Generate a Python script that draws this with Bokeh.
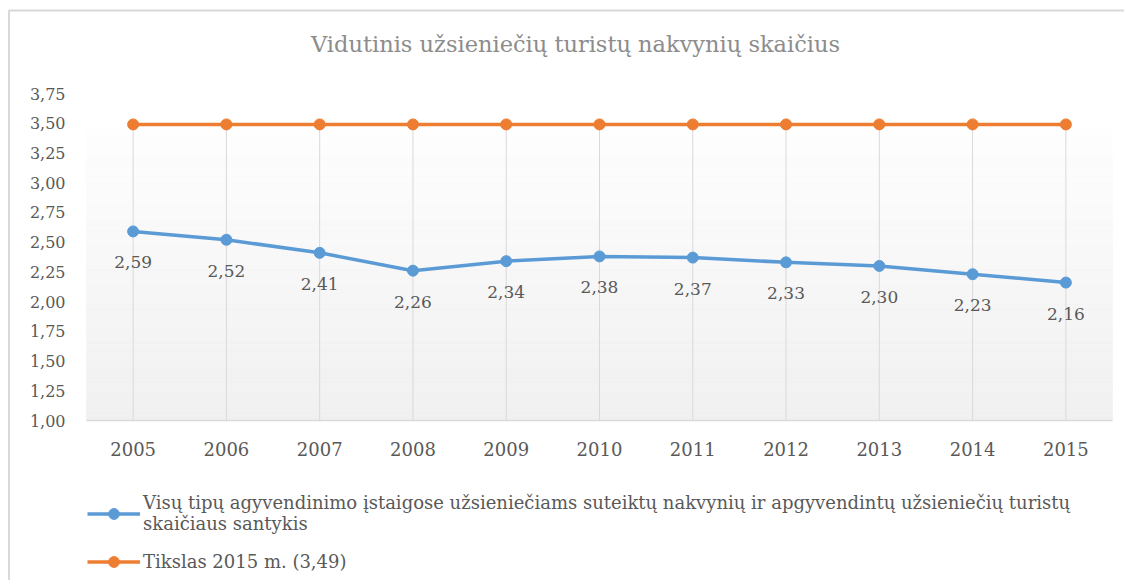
from bokeh.plotting import figure
from bokeh.models import Range1d, Legend, LegendItem
from bokeh.core.properties import value
from bokeh.embed import file_html
from bokeh.resources import INLINE

# ---- data ----
years = [2005, 2006, 2007, 2008, 2009, 2010, 2011, 2012, 2013, 2014, 2015]
santykis = [2.59, 2.52, 2.41, 2.26, 2.34, 2.38, 2.37, 2.33, 2.30, 2.23, 2.16]
tikslas = [3.49, 3.49, 3.49, 3.49, 3.49, 3.49, 3.49, 3.49, 3.49, 3.49, 3.49]
y_ticks = [1.00, 1.25, 1.50, 1.75, 2.00, 2.25, 2.50, 2.75, 3.00, 3.25, 3.50, 3.75]
chart_title = "Vidutinis užsieniečių turistų nakvynių skaičius"
series_names = [
    "Visų tipų agyvendinimo įstaigose užsieniečiams suteiktų nakvynių ir apgyvendintų užsieniečių turistų\nskaičiaus santykis",
    "Tikslas 2015 m. (3,49)",
]

# ---- style / layout (pixels) ----
BLUE = "#5B9BD5"
ORANGE = "#ED7D31"
TXT = "#595959"
GRID = "#d9d9d9"
FONT = "DejaVu Serif"
W, H = 1124, 580
OFF = 0
AREA_L, AREA_R = 86, 1112        # plot area left/right
Y_BOT_PX, Y_TOP_PX = 420, 93     # pixel of first / last y tick
AREA_TOP_PX = 128                # top of gradient plot area
TITLE_X_PX, TITLE_Y_PX = 575, 43
BOX_L_PX, BOX_T_PX = 8.5, 10     # chart box border

px_x = (AREA_R - AREA_L) / len(years)
px_y = (Y_BOT_PX - Y_TOP_PX) / (y_ticks[-1] - y_ticks[0])
x_lo = years[0] - 0.5
x_hi = years[-1] + 0.5
x_start = x_lo - (AREA_L - OFF) / px_x
x_end = x_hi + (OFF + W - AREA_R) / px_x
y_start = y_ticks[0] - (OFF + H - Y_BOT_PX) / px_y
y_end = y_ticks[-1] + (Y_TOP_PX - OFF) / px_y
area_top = y_ticks[0] + (Y_BOT_PX - AREA_TOP_PX) / px_y


def fmt(v):
    return f"{v:.2f}".replace(".", ",")


p = figure(width=W, height=H, output_backend="svg", toolbar_location=None,
           x_range=Range1d(x_start, x_end), y_range=Range1d(y_start, y_end),
           min_border=0)
p.axis.visible = False
p.grid.visible = False
p.outline_line_color = None
p.background_fill_color = "white"
p.border_fill_color = "white"

# chart box border (left + top)
bx = x_start + (BOX_L_PX - OFF) / px_x
by = y_end - (BOX_T_PX - OFF) / px_y
p.line(x=[bx, bx, x_end + 1], y=[y_start, by, by], line_color=GRID, line_width=2)

# gradient plot area (white -> light gray)
n = 60
ys = [y_ticks[0] + (area_top - y_ticks[0]) * i / n for i in range(n + 1)]
cols = []
for i in range(n):
    t = (i + 0.5) / n
    g = int(round(240 + (254 - 240) * t))
    cols.append("#%02x%02x%02x" % (g, g, g))
p.quad(left=x_lo, right=x_hi, bottom=ys[:-1], top=ys[1:],
       fill_color=cols, line_color=cols, line_width=0.6)

# vertical grid lines + category axis line
p.segment(x0=years, y0=y_ticks[0], x1=years, y1=area_top, line_color=GRID, line_width=1)
p.segment(x0=[x_lo], y0=[y_ticks[0]], x1=[x_hi], y1=[y_ticks[0]], line_color=GRID, line_width=1.5)

# series
lb = p.line(years, santykis, line_color=BLUE, line_width=3.5)
sb = p.scatter(years, santykis, size=11, fill_color=BLUE, line_color=BLUE)
lo = p.line(years, tikslas, line_color=ORANGE, line_width=3.5)
so = p.scatter(years, tikslas, size=11, fill_color=ORANGE, line_color=ORANGE)

# data labels
p.text(x=years, y=santykis, text=[fmt(v) for v in santykis], text_align="center",
       text_baseline="middle", y_offset=31, text_font=value(FONT),
       text_font_size="17px", text_color=TXT)

# x tick labels
p.text(x=years, y=[y_ticks[0]] * len(years), text=[str(y) for y in years],
       text_align="center", text_baseline="middle", y_offset=28,
       text_font=value(FONT), text_font_size="18px", text_color=TXT)

# y tick labels
p.text(x=[x_lo] * len(y_ticks), y=y_ticks, text=[fmt(v) for v in y_ticks],
       text_align="right", text_baseline="middle", x_offset=-21,
       text_font=value(FONT), text_font_size="16px", text_color=TXT)

# title
p.text(x=[x_lo + (TITLE_X_PX - AREA_L) / px_x], y=[y_ticks[-1] + (Y_TOP_PX - TITLE_Y_PX) / px_y],
       text=[chart_title], text_align="center", text_baseline="middle",
       text_font=value(FONT), text_font_size="22.5px", text_color="#8c8c8c")

# legend
legend = Legend(items=[LegendItem(label=series_names[0], renderers=[lb, sb]),
                       LegendItem(label=series_names[1], renderers=[lo, so])],
                location=(87 - OFF, OFF + H - 575), padding=0, margin=0, spacing=14,
                glyph_width=53, glyph_height=27, label_standoff=3,
                label_text_font=FONT, label_text_font_size="18px",
                label_text_color=TXT, label_text_line_height=1.4,
                background_fill_alpha=0, border_line_color=None)
p.add_layout(legend)

open("out.html", "w").write(file_html(p, INLINE))
